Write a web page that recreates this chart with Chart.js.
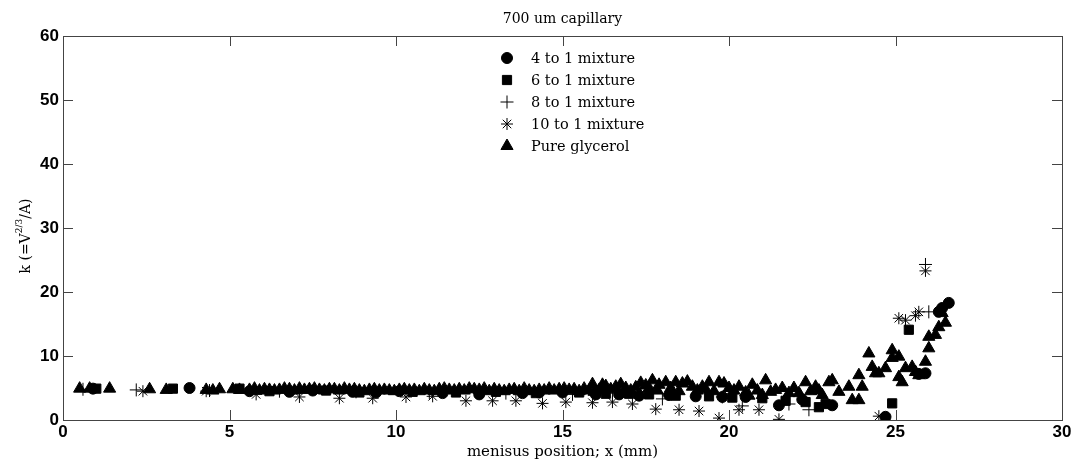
<!DOCTYPE html>
<html>
<head>
<meta charset="utf-8">
<script src="https://cdn.jsdelivr.net/npm/chart.js@4.4.1/dist/chart.umd.min.js"></script>
<style>
  html, body { margin: 0; padding: 0; background: #fff; }
  canvas { display: block; }
</style>
</head>
<body>
<canvas id="chart" width="1080" height="464"></canvas>
<script>
// 700 um capillary: k vs menisus position, five mixtures

const chartTitle = "700 um capillary";
const xTitle = "menisus position; x (mm)";
const seriesNames = ["4 to 1 mixture", "6 to 1 mixture", "8 to 1 mixture", "10 to 1 mixture", "Pure glycerol"];
const xTicks = [0, 5, 10, 15, 20, 25, 30];
const yTicks = [0, 10, 20, 30, 40, 50, 60];

// [x (mm), k]
const mix4to1 = [
  [0.9,4.9],[3.8,5.0],[5.6,4.5],[6.8,4.4],[7.5,4.6],[8.7,4.4],[9.4,4.3],[10.1,4.5],[11.4,4.2],
  [12.5,4.0],[13.8,4.2],[14.3,4.3],[15.0,4.3],[16.0,4.0],[16.7,4.0],[17.3,3.8],[18.2,3.9],
  [19.0,3.7],[19.8,3.6],[20.5,3.6],[21.5,2.3],[22.2,3.2],[23.1,2.3],[24.7,0.5],[25.7,7.2],
  [25.9,7.3],[26.3,16.9],[26.4,17.5],[26.6,18.3]
];
const mix6to1 = [
  [1.0,4.9],[3.3,4.9],[5.3,4.9],[6.2,4.5],[7.9,4.6],[8.9,4.3],[10.5,4.4],[11.8,4.3],[13.0,4.4],
  [14.2,4.2],[15.5,4.3],[16.3,4.1],[17.0,4.1],[17.6,4.0],[18.4,3.8],[19.4,3.7],[20.1,3.5],
  [21.0,3.4],[21.7,3.0],[22.3,2.8],[22.7,2.0],[22.9,2.5],[24.9,2.6],[25.4,14.1]
];
const mix8to1 = [
  [0.6,4.8],[2.2,4.7],[4.4,4.6],[6.5,4.5],[8.8,4.4],[11.0,4.3],[13.3,4.2],[15.3,4.0],
  [16.5,4.2],[18.0,3.3],[19.8,3.6],[20.4,2.2],[21.8,2.5],[22.4,1.6],[25.9,24.3],[26.0,16.9]
];
const mix10to1 = [
  [2.4,4.5],[4.3,4.5],[5.8,4.0],[7.1,3.6],[8.3,3.4],[9.3,3.4],[10.3,3.6],[11.1,3.7],
  [12.1,3.0],[12.9,3.0],[13.6,3.0],[14.4,2.6],[15.1,2.8],[15.9,2.7],[16.5,2.8],[17.1,2.5],
  [17.8,1.7],[18.5,1.6],[19.1,1.4],[19.7,0.3],[20.3,1.6],[20.9,1.6],[21.5,0.1],[24.5,0.6],
  [25.1,15.9],[25.3,15.6],[25.6,16.3],[25.7,16.9],[25.9,23.3]
];
const pureGlycerol = [
  [0.5,4.9],[0.8,4.9],[1.4,4.9],[2.6,4.8],[3.1,4.7],[4.3,4.7],[4.5,4.6],[4.7,4.8],[5.1,4.8],
  [5.3,4.7],[5.6,4.7],[5.75,4.9],[5.9,4.6],[6.05,4.8],[6.2,4.7],[6.35,4.6],[6.5,4.7],[6.65,4.9],
  [6.8,4.8],[6.95,4.6],[7.1,4.9],[7.25,4.7],[7.4,4.8],[7.55,4.9],[7.7,4.7],[7.85,4.6],[8.0,4.8],
  [8.15,4.8],[8.3,4.6],[8.45,4.9],[8.6,4.7],[8.75,4.8],[8.9,4.6],[9.05,4.5],[9.2,4.7],[9.35,4.8],
  [9.5,4.6],[9.65,4.7],[9.8,4.6],[9.95,4.5],[10.1,4.7],[10.25,4.8],[10.4,4.6],[10.55,4.7],
  [10.7,4.5],[10.85,4.8],[11.0,4.6],[11.15,4.5],[11.3,4.8],[11.45,4.9],[11.6,4.7],[11.75,4.6],
  [11.9,4.8],[12.05,4.6],[12.2,4.9],[12.35,4.8],[12.5,4.7],[12.65,4.9],[12.8,4.5],[12.95,4.8],
  [13.1,4.6],[13.25,4.5],[13.4,4.7],[13.55,4.8],[13.7,4.5],[13.85,4.9],[14.0,4.6],[14.15,4.5],
  [14.3,4.7],[14.45,4.6],[14.6,4.9],[14.75,4.6],[14.9,4.8],[15.05,4.9],[15.2,4.7],[15.35,4.8],
  [15.5,4.5],[15.65,4.9],[15.8,4.6],[15.9,5.6],[15.95,4.4],[16.1,4.7],[16.2,5.5],[16.3,5.3],
  [16.45,4.8],[16.6,5.2],[16.75,5.6],[16.9,5.0],[17.05,4.6],[17.2,5.1],[17.35,5.8],[17.5,5.4],
  [17.6,5.0],[17.7,6.2],[17.85,4.6],[17.9,5.5],[18.1,5.9],[18.25,5.0],[18.4,5.9],[18.5,4.5],
  [18.6,5.7],[18.75,6.0],[18.9,5.2],[19.05,4.6],[19.2,5.2],[19.3,4.8],[19.4,5.9],[19.55,4.5],
  [19.7,5.9],[19.85,5.7],[20.0,5.0],[20.15,4.6],[20.3,5.2],[20.5,4.3],[20.6,3.8],[20.7,5.5],
  [20.85,4.6],[21.0,3.9],[21.1,6.2],[21.25,4.4],[21.4,4.7],[21.6,5.0],[21.8,4.2],[21.95,5.0],
  [22.1,4.2],[22.3,5.9],[22.45,4.5],[22.6,5.2],[22.7,4.6],[22.8,3.9],[23.0,5.9],[23.1,6.2],
  [23.3,4.4],[23.6,5.2],[23.7,3.1],[23.9,3.1],[23.9,7.0],[24.0,5.2],[24.2,10.4],[24.3,8.3],
  [24.4,7.3],[24.5,7.3],[24.7,8.1],[24.9,10.9],[24.9,9.7],[25.1,9.9],[25.1,6.7],[25.2,5.9],
  [25.3,8.1],[25.5,8.3],[25.6,7.5],[25.7,7.0],[25.9,9.1],[26.0,11.2],[26.0,13.0],[26.2,13.3],
  [26.3,14.5],[26.5,15.2],[26.4,16.7]
];

const toXY = arr => arr.map(([x, y]) => ({ x, y }));

const styles = [
  { pointStyle: "circle",   radius: 5.5, order: 4 },
  { pointStyle: "rect",     radius: 6.5, order: 3 },
  { pointStyle: "cross",    radius: 6.5, order: 2 },
  { pointStyle: "star",     radius: 6,   order: 1 },
  { pointStyle: "triangle", radius: 7,   order: 0 }
];
const allSeries = [mix4to1, mix6to1, mix8to1, mix10to1, pureGlycerol];

const datasets = allSeries.map((s, i) => ({
  label: seriesNames[i],
  data: toXY(s),
  pointStyle: styles[i].pointStyle,
  pointRadius: styles[i].radius,
  pointHoverRadius: styles[i].radius,
  backgroundColor: "#000",
  borderColor: "#000",
  borderWidth: 1,
  showLine: false,
  order: styles[i].order
}));

const SERIF = "'DejaVu Serif', serif";
const SANS = "'Liberation Sans', Arial, sans-serif";

// box + inward ticks, title, axis titles, legend
const matlabDecor = {
  id: "matlabDecor",
  afterDraw(chart){
    const { ctx, chartArea: a, scales } = chart;
    ctx.save();
    ctx.strokeStyle = "#444";
    ctx.lineWidth = 1;
    ctx.strokeRect(a.left + 0.5, a.top + 0.5, a.right - a.left, a.bottom - a.top);

    const tl = 10;
    ctx.beginPath();
    for (const v of xTicks){
      const px = Math.round(scales.x.getPixelForValue(v)) + 0.5;
      ctx.moveTo(px, a.bottom); ctx.lineTo(px, a.bottom - tl);
      ctx.moveTo(px, a.top); ctx.lineTo(px, a.top + tl);
    }
    for (const v of yTicks){
      const py = Math.round(scales.y.getPixelForValue(v)) + 0.5;
      ctx.moveTo(a.left, py); ctx.lineTo(a.left + tl, py);
      ctx.moveTo(a.right, py); ctx.lineTo(a.right - tl, py);
    }
    ctx.stroke();

    ctx.fillStyle = "#000";
    ctx.textBaseline = "middle";
    ctx.textAlign = "center";
    const cx = (a.left + a.right) / 2;
    ctx.font = "14px " + SERIF;
    ctx.fillText(chartTitle, cx, 19);
    ctx.font = "15px " + SERIF;
    ctx.fillText(xTitle, cx, 452);

    // y title with superscript
    ctx.save();
    ctx.translate(26, 236);
    ctx.rotate(-Math.PI / 2);
    ctx.textAlign = "left";
    const parts = [["k (=V", "14px", 0], ["2/3", "9px", -6], ["/A)", "14px", 0]];
    let w = 0;
    for (const [t, f] of parts){ ctx.font = f + " " + SERIF; w += ctx.measureText(t).width; }
    let x0 = -w / 2;
    for (const [t, f, dy] of parts){
      ctx.font = f + " " + SERIF;
      ctx.fillText(t, x0, dy);
      x0 += ctx.measureText(t).width;
    }
    ctx.restore();

    // legend
    const lx = 507, ly = [58, 80, 102, 124, 146];
    ctx.font = "14.5px " + SERIF;
    ctx.textAlign = "left";
    chart.data.datasets.forEach((ds, i) => {
      ctx.fillStyle = "#000";
      ctx.strokeStyle = "#000";
      ctx.lineWidth = 1;
      Chart.helpers.drawPoint(ctx, {
        pointStyle: ds.pointStyle, radius: ds.pointRadius, rotation: 0, borderWidth: 1
      }, lx, ly[i]);
      ctx.fillText(ds.label, 531, ly[i] + 1);
    });
    ctx.restore();
  }
};

new Chart(document.getElementById("chart"), {
  type: "scatter",
  data: { datasets },
  options: {
    responsive: false,
    animation: false,
    devicePixelRatio: 1,
    layout: { padding: { left: 0, right: 18, top: 36, bottom: 0 } },
    plugins: { legend: { display: false }, tooltip: { enabled: false }, title: { display: false } },
    scales: {
      x: {
        type: "linear", min: 0, max: 30,
        afterBuildTicks: s => { s.ticks = xTicks.map(v => ({ value: v })); },
        afterFit: s => { s.height = 44; },
        grid: { display: false, drawTicks: false },
        border: { display: false },
        ticks: { padding: 2, color: "#000", font: { family: SANS, size: 17, weight: "600" }, maxRotation: 0 }
      },
      y: {
        type: "linear", min: 0, max: 60,
        afterBuildTicks: s => { s.ticks = yTicks.map(v => ({ value: v })); },
        afterFit: s => { s.width = 63; },
        grid: { display: false, drawTicks: false },
        border: { display: false },
        ticks: { padding: 4, color: "#000", font: { family: SANS, size: 17, weight: "600" } }
      }
    }
  },
  plugins: [matlabDecor]
});
</script>
</body>
</html>
